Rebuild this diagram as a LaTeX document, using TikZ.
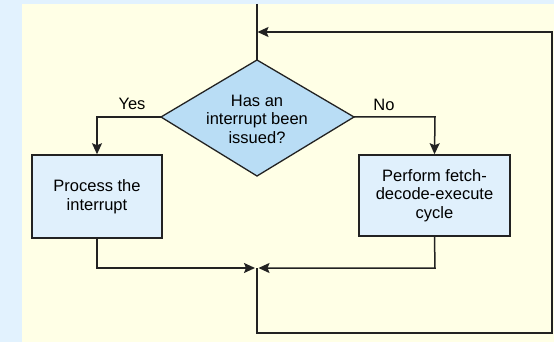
\documentclass[tikz,border=0pt]{standalone}
\usepackage{fontspec}
\setmainfont{Liberation Sans}
\usetikzlibrary{shapes.geometric,arrows.meta}
\definecolor{bgblue}{HTML}{E2F2FE}
\definecolor{cream}{HTML}{FFFFE6}
\definecolor{diafill}{HTML}{B9DDF5}
\definecolor{boxfill}{HTML}{E0F0FC}
\definecolor{ink}{HTML}{222222}
\tikzset{
  flow/.style={draw=ink, line width=1.5pt},
  arr/.style={flow, -{Stealth[length=11pt,width=10pt,inset=2pt]}},
  procbox/.style={draw=ink, line width=1.5pt, fill=boxfill, align=center, font=\fontsize{16.5}{18.5}\selectfont, inner sep=0pt},
  decision/.style={draw=ink, line width=1.3pt, fill=diafill},
  lbl/.style={font=\fontsize{16.5}{18}\selectfont, inner sep=0pt}
}
\begin{document}
\begin{tikzpicture}[x=1pt,y=-1pt]
\useasboundingbox (0,0) rectangle (554,342);
\fill[bgblue] (0,0) rectangle (554,342);
\fill[cream] (22,4) rectangle (554,342);
% decision diamond
\draw[decision] (257,60) -- (354,117) -- (257,176) -- (161,117) -- cycle;
\node[inner sep=0pt, align=center, font=\fontsize{16.5}{18.5}\selectfont] (dec) at (257,119) {Has an\\interrupt been\\issued?};
\coordinate (dtop) at (257,60);
\coordinate (dleft) at (161,117);
\coordinate (dright) at (354,117);
% boxes
\node[procbox, minimum width=130pt, minimum height=83pt] (proc) at (97,196.5) {Process the\\interrupt};
\node[procbox, minimum width=151pt, minimum height=81pt] (fde) at (434.5,195.5) {Perform fetch-\\decode-execute\\cycle};
% coordinates
\coordinate (top) at (257,4);
\coordinate (merge) at (257,268);
\coordinate (yescorner) at (97,117);
\coordinate (nocorner) at (435,117);
\coordinate (lb) at (97,268);
\coordinate (rb) at (435,268);
\coordinate (loopbl) at (257,333);
\coordinate (loopbr) at (552,333);
\coordinate (looptr) at (552,32);
\coordinate (loopin) at (257,32);
% connectors
\draw[flow] (top) -- (dtop);
\draw[arr] (dleft) -- (yescorner) -- (proc.north);
\draw[arr] (dright) -- (nocorner) -- (fde.north);
\draw[arr, shorten >=2pt] (proc.south) -- (lb) -- (merge);
\draw[arr, shorten >=1.5pt] (fde.south) -- (rb) -- (merge);
\draw[arr, shorten >=0.5pt] (merge) -- (loopbl) -- (loopbr) -- (looptr) -- (loopin);
% labels
\node[lbl] (yes) at (132,104) {Yes};
\node[lbl] (no) at (384,105) {No};
\end{tikzpicture}
\end{document}
